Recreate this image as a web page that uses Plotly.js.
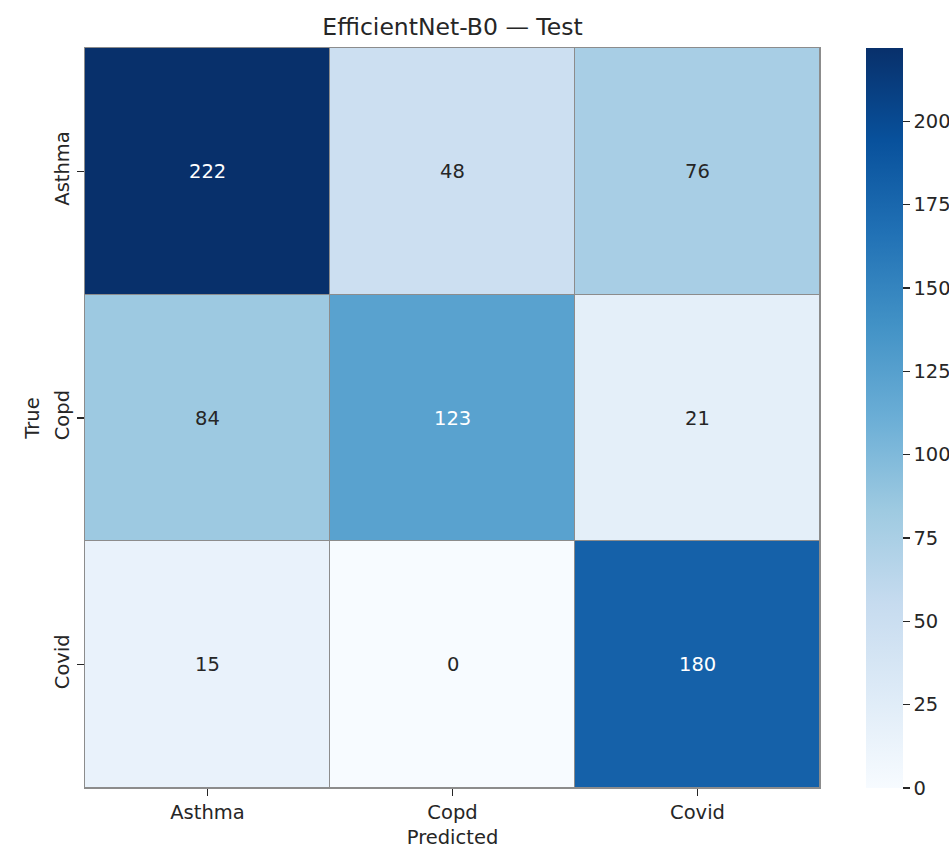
<!DOCTYPE html>
<html>
<head>
<meta charset="utf-8">
<script src="https://cdn.plot.ly/plotly-3.0.1.min.js"></script>
<style>html,body{margin:0;padding:0;background:#fff;}#chart{width:949px;height:851px;}</style>
</head>
<body>
<div id="chart"></div>
<script>
// Data
const predictedLabels = ['Asthma', 'Copd', 'Covid'];
const trueLabels = ['Asthma', 'Copd', 'Covid'];
const rowAsthma = [222, 48, 76];
const rowCopd = [84, 123, 21];
const rowCovid = [15, 0, 180];
const colorbarTicks = [0, 25, 50, 75, 100, 125, 150, 175, 200];

const matrix = [rowAsthma, rowCopd, rowCovid];

const blues = [
  [0.0, '#f7fbff'], [0.125, '#deebf7'], [0.25, '#c6dbef'], [0.375, '#9ecae1'],
  [0.5, '#6baed6'], [0.625, '#4292c6'], [0.75, '#2171b5'], [0.875, '#08519c'], [1.0, '#08306b']
];

const zmin = 0;
const zmax = Math.max(...matrix.flat());

function hexToRgb(h) {
  return [parseInt(h.slice(1,3),16), parseInt(h.slice(3,5),16), parseInt(h.slice(5,7),16)];
}
function colorAt(t) {
  for (let i = 1; i < blues.length; i++) {
    if (t <= blues[i][0]) {
      const a = blues[i-1], b = blues[i];
      const f = (t - a[0]) / (b[0] - a[0]);
      const ca = hexToRgb(a[1]), cb = hexToRgb(b[1]);
      return ca.map((v, k) => v + (cb[k] - v) * f);
    }
  }
  return hexToRgb(blues[blues.length-1][1]);
}
function luminance(rgb) {
  const c = rgb.map(v => {
    v = v / 255;
    return v <= 0.03928 ? v / 12.92 : Math.pow((v + 0.055) / 1.055, 2.4);
  });
  return 0.2126 * c[0] + 0.7152 * c[1] + 0.0722 * c[2];
}

const FONT = 'DejaVu Sans, sans-serif';
const annotations = [];
matrix.forEach((row, i) => {
  row.forEach((v, j) => {
    const lum = luminance(colorAt((v - zmin) / (zmax - zmin)));
    annotations.push({
      x: predictedLabels[j], y: trueLabels[i], xref: 'x', yref: 'y',
      text: String(v), showarrow: false,
      font: {family: FONT, size: 19.5, color: lum > 0.408 ? '#262626' : '#ffffff'}
    });
  });
});

const trace = {
  type: 'heatmap',
  x: predictedLabels,
  y: trueLabels,
  z: matrix,
  zmin: zmin,
  zmax: zmax,
  colorscale: blues,
  xgap: 1,
  ygap: 1,
  hoverongaps: false,
  colorbar: {
    thickness: 37,
    thicknessmode: 'pixels',
    len: 1,
    lenmode: 'fraction',
    x: 1.0626,
    xanchor: 'left',
    y: 0.5,
    yanchor: 'middle',
    xpad: 0,
    ypad: 0,
    outlinewidth: 0,
    tickvals: colorbarTicks,
    ticks: 'outside',
    ticklen: 7,
    tickwidth: 1.5,
    tickcolor: '#262626',
    tickfont: {family: FONT, size: 19.5, color: '#262626'}
  }
};

const layout = {
  width: 949,
  height: 851,
  margin: {l: 85, r: 129, t: 48, b: 63, autoexpand: false},
  paper_bgcolor: '#ffffff',
  plot_bgcolor: '#8c8c8c',
  title: {
    text: 'EfficientNet-B0 — Test',
    font: {family: FONT, size: 23.5, color: '#262626'},
    x: 0.5, xref: 'paper', y: 1 - 27/851, yref: 'container', yanchor: 'middle'
  },
  xaxis: {
    type: 'category',
    showgrid: false, zeroline: false,
    ticks: 'outside', ticklen: 7, tickwidth: 1.5, tickcolor: '#262626',
    tickfont: {family: FONT, size: 19.5, color: '#262626'},
    showline: true, linecolor: '#8c8c8c', linewidth: 1, mirror: true,
    title: {text: 'Predicted', font: {family: FONT, size: 19.5, color: '#262626'}, standoff: 6}
  },
  yaxis: {
    type: 'category',
    autorange: 'reversed',
    showgrid: false, zeroline: false,
    ticks: 'outside', ticklen: 7, tickwidth: 1.5, tickcolor: '#262626',
    tickangle: -90,
    tickfont: {family: FONT, size: 19.5, color: '#262626'},
    showline: true, linecolor: '#8c8c8c', linewidth: 1, mirror: true,
    title: {text: 'True', font: {family: FONT, size: 19.5, color: '#262626'}, standoff: 6}
  },
  annotations: annotations,
  showlegend: false
};

Plotly.newPlot('chart', [trace], layout, {displayModeBar: false, staticPlot: true});
</script>
</body>
</html>
